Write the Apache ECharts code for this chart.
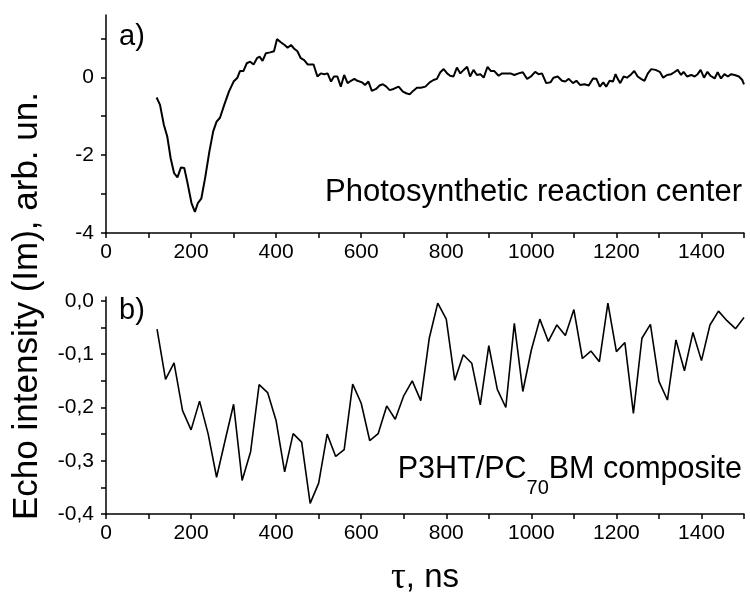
<!DOCTYPE html>
<html><head><meta charset="utf-8">
<script src="https://cdn.jsdelivr.net/npm/echarts@6/dist/echarts.min.js"></script>
<style>html,body{margin:0;padding:0;background:#fff}#c{width:750px;height:596px}</style>
</head><body><div id="c"></div>
<script>
// Panel a) Photosynthetic reaction center
const tauA = [119,127,136,144,152,160,168,176,184,191,201,209,216,224,233,243,252,260,268,278,289,300,309,315,323,331,339,347,355,361,368,376,386,395,402,411,420,427,435,442,450,458,466,474,488,497,505,513,521,529,536,544,552,560,568,576,584,591,602,609,617,625,635,643,651,659,667,676,688,698,706,714,722,731,740,751,761,770,778,786,794,802,809,817,825,833,841,849,856,864,872,880,888,897,905,913,923,931,941,951,960,970,980,990,999,1009,1017,1025,1035,1045,1052,1062,1072,1080,1088,1098,1106,1115,1125,1135,1145,1153,1161,1169,1176,1184,1192,1198,1203,1209,1217,1225,1235,1242,1250,1258,1266,1274,1282,1292,1302,1310,1319,1329,1336,1344,1352,1358,1366,1376,1384,1391,1398,1406,1414,1421,1431,1438,1446,1454,1462,1470,1478,1488,1496,1500];
const echoA = [-0.52,-0.71,-1.22,-1.52,-2.08,-2.46,-2.57,-2.32,-2.33,-2.68,-3.23,-3.46,-3.23,-3.12,-2.59,-1.91,-1.39,-1.14,-1.04,-0.71,-0.37,-0.11,-0.01,0.16,0.16,0.36,0.40,0.33,0.49,0.53,0.42,0.62,0.64,0.67,0.98,0.90,0.83,0.76,0.83,0.74,0.67,0.49,0.44,0.33,0.33,0.02,0.10,0.08,0.10,-0.11,0.02,0.02,-0.24,0.06,-0.15,-0.09,-0.04,-0.09,-0.13,-0.20,-0.11,-0.35,-0.30,-0.21,-0.18,-0.24,-0.33,-0.30,-0.24,-0.37,-0.41,-0.44,-0.35,-0.27,-0.27,-0.24,-0.13,-0.07,-0.04,0.13,0.21,0.10,0.04,0.02,0.25,0.10,0.19,0.27,0.02,0.19,0.06,0.08,-0.01,0.27,0.16,0.16,0.04,0.10,0.10,0.10,0.06,0.10,0.13,-0.04,0.02,0.14,0.08,0.10,-0.15,-0.13,-0.01,0.02,-0.09,-0.11,-0.04,-0.15,-0.09,-0.20,-0.18,-0.21,-0.03,-0.04,-0.24,-0.13,-0.24,-0.09,-0.11,0.08,-0.04,-0.15,0.02,-0.01,0.08,0.16,0.02,-0.04,-0.09,0.10,0.21,0.19,0.14,-0.01,0.06,0.08,0.13,0.19,0.06,0.14,0.02,0.06,0.02,0.08,0.19,-0.01,0.14,0.04,-0.03,0.13,-0.03,0.08,0.02,0.08,0.06,0.02,-0.07,-0.18];

// Panel b) P3HT/PC70BM composite
const tauB = [120,140,160,180,200,220,240,260,280,300,320,340,360,380,400,420,440,460,480,500,520,540,560,580,600,620,640,660,680,700,720,740,760,780,800,820,840,860,880,900,920,940,960,980,1000,1020,1040,1060,1080,1100,1120,1140,1160,1180,1200,1220,1240,1260,1280,1300,1320,1340,1360,1380,1400,1420,1440,1460,1480,1500];
const echoB = [-0.053,-0.147,-0.116,-0.206,-0.242,-0.188,-0.249,-0.331,-0.262,-0.194,-0.337,-0.283,-0.157,-0.172,-0.225,-0.321,-0.249,-0.265,-0.380,-0.342,-0.250,-0.292,-0.279,-0.156,-0.192,-0.262,-0.249,-0.197,-0.222,-0.178,-0.150,-0.187,-0.070,-0.004,-0.034,-0.149,-0.101,-0.117,-0.195,-0.084,-0.166,-0.200,-0.042,-0.170,-0.092,-0.034,-0.076,-0.045,-0.065,-0.016,-0.108,-0.094,-0.114,-0.004,-0.095,-0.078,-0.211,-0.070,-0.044,-0.151,-0.186,-0.073,-0.131,-0.059,-0.112,-0.045,-0.019,-0.037,-0.052,-0.031];

// Ticks and labels
const xTicks = [0,100,200,300,400,500,600,700,800,900,1000,1100,1200,1300,1400,1500];
const xLabels = [0,200,400,600,800,1000,1200,1400];
const yTicksA = [-4,-3,-2,-1,0,1];
const yLabelsA = [-4,-2,0];
const yTicksB = [-0.4,-0.35,-0.3,-0.25,-0.2,-0.15,-0.1,-0.05,0];
const yLabelsB = [-0.4,-0.3,-0.2,-0.1,0];

const FONT = 'Liberation Sans, Arial, sans-serif';
const axisLine = {show:true, onZero:false, lineStyle:{color:'#000', width:1.5}};
const tickStyle = {lineStyle:{color:'#000', width:1.5}};
const lblBase = {color:'#000', fontFamily:FONT, fontSize:21};

function xAxis(gi){
  return {type:'value', gridIndex:gi, min:0, max:1500, interval:100,
    axisLine:axisLine, splitLine:{show:false},
    axisTick:Object.assign({show:true, inside:false, length:5, customValues:xTicks}, tickStyle),
    axisLabel:Object.assign({margin:9, customValues:xLabels, formatter:v=>String(v)}, lblBase)};
}

const chart = echarts.init(document.getElementById('c'), null, {renderer:'canvas'});
chart.setOption({
  animation:false,
  backgroundColor:'#fff',
  grid:[
    {left:106, top:15, width:638, height:218},
    {left:106, top:297, width:638, height:217}
  ],
  xAxis:[xAxis(0), xAxis(1)],
  yAxis:[
    {type:'value', gridIndex:0, min:-4, max:1.6, interval:1,
     axisLine:axisLine, splitLine:{show:false},
     axisTick:Object.assign({show:true, length:5, customValues:yTicksA}, tickStyle),
     axisLabel:Object.assign({margin:12, customValues:yLabelsA, formatter:v=>String(v)}, lblBase)},
    {type:'value', gridIndex:1, min:-0.4, max:0.0075, interval:0.05,
     axisLine:axisLine, splitLine:{show:false},
     axisTick:Object.assign({show:true, length:5, customValues:yTicksB}, tickStyle),
     axisLabel:Object.assign({margin:12, customValues:yLabelsB,
       formatter:v=>(Math.abs(v)<1e-9?'0,0':v.toFixed(1).replace('.',','))}, lblBase)}
  ],
  series:[
    {type:'line', xAxisIndex:0, yAxisIndex:0, showSymbol:false, symbol:'none',
     data:tauA.map((t,i)=>[t,echoA[i]]), lineStyle:{color:'#000', width:2}, clip:true},
    {type:'line', xAxisIndex:1, yAxisIndex:1, showSymbol:false, symbol:'none',
     data:tauB.map((t,i)=>[t,echoB[i]]), lineStyle:{color:'#000', width:1.6}, clip:true}
  ],
  graphic:[
    {type:'text', left:119, top:22, style:{text:'a)', fill:'#000', font:'29px '+FONT}},
    {type:'text', left:119, top:296, style:{text:'b)', fill:'#000', font:'29px '+FONT}},
    {type:'text', right:8, top:177, style:{text:'Photosynthetic reaction center', fill:'#000', font:'31px '+FONT}},
    {type:'text', right:8, top:454, style:{
      text:'{a|P3HT/PC}{s|70}{a|BM composite}', fill:'#000',
      rich:{a:{fontSize:30.5, fontFamily:FONT, lineHeight:44, verticalAlign:'top', fill:'#000'},
            s:{fontSize:20, fontFamily:FONT, lineHeight:44, verticalAlign:'bottom', fill:'#000'}}}},
    {type:'text', x:10, y:306, rotation:Math.PI/2, style:{
      text:'Echo intensity (Im), arb. un.', fill:'#000', font:'35px '+FONT, align:'center', verticalAlign:'top'}},
    {type:'text', x:425, y:578, style:{
      text:'{t|τ}{n|, ns}', align:'center', verticalAlign:'middle',
      rich:{t:{fontSize:37, fontFamily:'Liberation Serif, serif', fill:'#000'},
            n:{fontSize:33, fontFamily:FONT, fill:'#000'}}}}
  ]
});
</script></body></html>
